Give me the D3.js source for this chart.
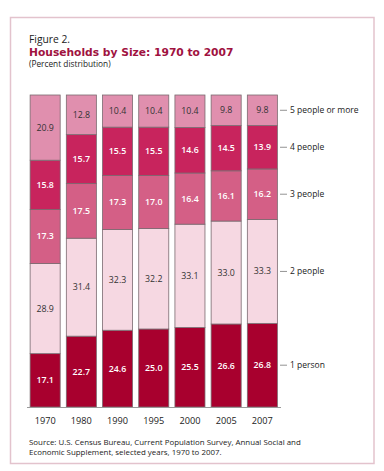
<!DOCTYPE html>
<html><head><meta charset="utf-8">
<script src="https://cdn.jsdelivr.net/npm/d3@7"></script>
<style>body{margin:0;background:#fff;} svg{display:block;}</style>
</head><body>
<svg id="c" width="384" height="471"></svg>
<script>
const years = ["1970","1980","1990","1995","2000","2005","2007"];
const seriesNames = ["1 person","2 people","3 people","4 people","5 people or more"];
const onePerson = [17.1,22.7,24.6,25.0,25.5,26.6,26.8];
const twoPeople = [28.9,31.4,32.3,32.2,33.1,33.0,33.3];
const threePeople = [17.3,17.5,17.3,17.0,16.4,16.1,16.2];
const fourPeople = [15.8,15.7,15.5,15.5,14.6,14.5,13.9];
const fivePlus = [20.9,12.8,10.4,10.4,10.4,9.8,9.8];
const colors = ["#a8002e","#f6d8e2","#d45f86","#c8245d","#e08fae"];
const textColors = ["#fff","#333","#fff","#fff","#333"];

const seriesVals = [onePerson,twoPeople,threePeople,fourPeople,fivePlus];
const rows = years.map((y,i)=>{const o={year:y}; seriesNames.forEach((s,k)=>o[s]=seriesVals[k][i]); return o;});
const stack = d3.stack().keys(seriesNames)(rows);

const svg = d3.select("#c");
const font = "'Open Sans', 'DejaVu Sans', sans-serif";

// frame
svg.append("rect").attr("x",10.5).attr("y",17.5).attr("width",363.5).attr("height",446)
  .attr("fill","#fff").attr("stroke","#e3c3cd").attr("stroke-width",1.5);

svg.append("text").attr("x",29).attr("y",43).attr("font-family",font).attr("font-size",10.3).attr("fill","#222").text("Figure 2.");
svg.append("text").attr("x",29).attr("y",56).attr("font-family","'DejaVu Sans', sans-serif").attr("font-weight","bold").attr("font-size",10.7).attr("fill","#a0123f").text("Households by Size: 1970 to 2007");
svg.append("text").attr("x",29).attr("y",67).attr("font-family",font).attr("font-size",8.3).attr("fill","#222").text("(Percent distribution)");

const x = d3.scaleBand().domain(years).range([26.5,281]).paddingInner(0.17).paddingOuter(0.1);
const y = d3.scaleLinear().domain([0,100]).range([407,95]);

const g = svg.append("g");
stack.forEach((layer,k)=>{
  const lg = g.append("g");
  lg.selectAll("rect").data(layer).enter().append("rect")
    .attr("x",d=>x(d.data.year)).attr("width",x.bandwidth())
    .attr("y",d=>y(Math.min(d[1],100))).attr("height",d=>y(d[0])-y(Math.min(d[1],100)))
    .attr("fill",colors[k]).attr("stroke","#7a6a70").attr("stroke-width",0.8);
  lg.selectAll("text").data(layer).enter().append("text")
    .attr("x",d=>x(d.data.year)+x.bandwidth()/2)
    .attr("y",d=>(y(d[0])+y(Math.min(d[1],100)))/2+3)
    .attr("text-anchor","middle").attr("font-family",font).attr("font-size",8.8)
    .attr("font-weight",k===1||k===4?"normal":"600")
    .attr("fill",textColors[k]).text(d=>(d[1]-d[0]).toFixed(1));
});

// axis
const axis = d3.axisBottom(x).tickSize(0).tickPadding(10);
const ax = svg.append("g").attr("transform","translate(0,407.5)").call(axis);
ax.select(".domain").attr("stroke","#999").attr("d","M27,0H281");
ax.selectAll("text").attr("font-family",font).attr("font-size",9.2).attr("fill","#222");

// legend labels on right
const last = stack.map(l=>l[l.length-1]);
last.forEach((d,k)=>{
  const cy = (y(d[0])+y(Math.min(d[1],100)))/2;
  svg.append("line").attr("x1",280).attr("x2",287).attr("y1",cy).attr("y2",cy).attr("stroke","#777").attr("stroke-width",0.8);
  svg.append("text").attr("x",290).attr("y",cy+3).attr("font-family",font).attr("font-size",8.5).attr("fill","#222").text(seriesNames[k]);
});

svg.append("text").attr("x",29).attr("y",445).attr("font-family",font).attr("font-size",7.9).attr("fill","#222")
  .text("Source:  U.S. Census Bureau, Current Population Survey, Annual Social and");
svg.append("text").attr("x",29).attr("y",454.5).attr("font-family",font).attr("font-size",7.9).attr("fill","#222")
  .text("Economic Supplement, selected years, 1970 to 2007.");
</script>
</body></html>
